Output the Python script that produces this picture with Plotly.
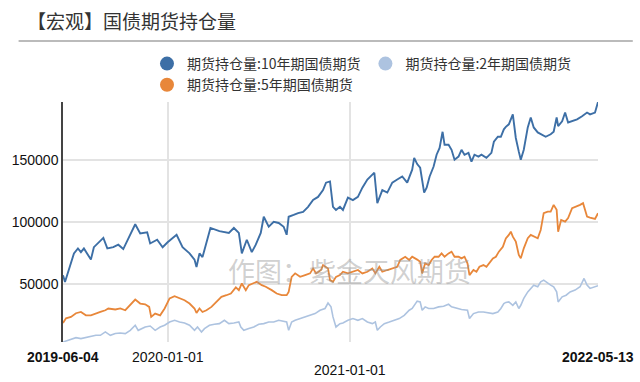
import plotly.graph_objects as go

title_text = "【宏观】国债期货持仓量"
watermark_text = "作图：紫金天风期货"

name_10y = "期货持仓量:10年期国债期货"
name_5y = "期货持仓量:5年期国债期货"
name_2y = "期货持仓量:2年期国债期货"

dates_10y = ["2019-06-04","2019-06-08","2019-06-26","2019-07-04","2019-07-10","2019-07-16","2019-07-30","2019-08-05","2019-08-24","2019-09-01","2019-09-13","2019-09-23","2019-10-03","2019-10-17","2019-10-27","2019-11-06","2019-11-20","2019-11-26","2019-12-10","2019-12-21","2019-12-31","2020-01-18","2020-01-30","2020-02-13","2020-02-23","2020-02-27","2020-03-04","2020-03-10","2020-03-20","2020-03-26","2020-04-13","2020-05-02","2020-05-12","2020-05-22","2020-05-28","2020-06-07","2020-06-17","2020-06-25","2020-07-05","2020-07-11","2020-07-21","2020-07-31","2020-08-10","2020-08-20","2020-08-26","2020-08-30","2020-09-09","2020-09-18","2020-09-28","2020-10-08","2020-10-18","2020-10-28","2020-11-07","2020-11-13","2020-11-21","2020-11-23","2020-11-27","2020-12-03","2020-12-11","2020-12-17","2020-12-27","2021-01-06","2021-01-16","2021-01-25","2021-02-04","2021-02-14","2021-02-18","2021-02-24","2021-03-06","2021-03-16","2021-03-26","2021-04-05","2021-04-15","2021-04-25","2021-05-05","2021-05-09","2021-05-15","2021-05-21","2021-05-25","2021-05-29","2021-06-03","2021-06-09","2021-06-17","2021-06-23","2021-06-29","2021-07-05","2021-07-09","2021-07-17","2021-07-23","2021-07-29","2021-08-06","2021-08-12","2021-08-18","2021-08-26","2021-09-01","2021-09-07","2021-09-15","2021-09-21","2021-10-01","2021-10-11","2021-10-16","2021-10-24","2021-10-30","2021-11-05","2021-11-09","2021-11-15","2021-11-23","2021-11-29","2021-12-05","2021-12-09","2021-12-15","2021-12-23","2021-12-29","2022-01-04","2022-01-12","2022-01-18","2022-01-28","2022-02-07","2022-02-13","2022-02-19","2022-02-22","2022-03-02","2022-03-08","2022-03-14","2022-03-22","2022-04-01","2022-04-11","2022-04-21","2022-04-27","2022-05-07","2022-05-13"]
vals_10y = [57400,52000,75000,79000,76000,79000,70000,80000,87500,79000,80000,82000,78500,91000,98500,91000,92000,83000,86000,80000,84000,90000,80000,75000,70000,64000,75000,72000,86000,95500,93000,91500,95500,91500,75000,86000,76000,82000,91500,104500,96500,100500,99500,96500,90000,104500,106000,107500,108500,112500,118000,120500,126000,132000,133000,126000,112500,110000,112500,110000,120000,118000,120500,128000,134500,138500,140000,115500,126000,124000,132000,134500,137000,132000,142500,152000,147000,144000,132000,124000,128000,137000,145000,154500,160000,173000,162500,162500,158500,150500,153000,158500,154500,156000,149000,154500,153000,154500,152000,156000,165000,169000,169000,175000,177000,179000,187000,168000,157000,150500,158500,176500,184500,176500,172500,171000,169000,171000,173000,184500,177500,181500,188500,180500,181500,183000,185500,188500,187000,188500,197000]

dates_5y = ["2019-06-04","2019-06-10","2019-06-20","2019-06-30","2019-07-10","2019-07-20","2019-07-30","2019-08-09","2019-08-18","2019-08-28","2019-09-03","2019-09-17","2019-09-27","2019-10-07","2019-10-17","2019-10-27","2019-11-06","2019-11-16","2019-11-24","2019-11-28","2019-12-06","2019-12-16","2019-12-25","2020-01-04","2020-01-14","2020-01-24","2020-02-03","2020-02-13","2020-02-23","2020-02-27","2020-03-04","2020-03-10","2020-03-18","2020-03-28","2020-04-07","2020-04-17","2020-04-27","2020-05-06","2020-05-16","2020-05-22","2020-05-28","2020-06-05","2020-06-11","2020-06-21","2020-06-27","2020-07-07","2020-07-15","2020-07-27","2020-08-06","2020-08-16","2020-08-26","2020-08-30","2020-09-05","2020-09-12","2020-09-22","2020-10-02","2020-10-12","2020-10-18","2020-10-24","2020-11-03","2020-11-07","2020-11-17","2020-11-21","2020-11-27","2020-12-03","2020-12-11","2020-12-17","2020-12-27","2021-01-06","2021-01-16","2021-01-25","2021-02-04","2021-02-14","2021-02-20","2021-02-28","2021-03-06","2021-03-16","2021-03-26","2021-04-05","2021-04-11","2021-04-21","2021-04-29","2021-05-05","2021-05-15","2021-05-21","2021-05-25","2021-05-31","2021-06-07","2021-06-13","2021-06-19","2021-06-27","2021-07-03","2021-07-09","2021-07-17","2021-07-23","2021-07-29","2021-08-06","2021-08-12","2021-08-18","2021-08-24","2021-08-28","2021-09-05","2021-09-11","2021-09-17","2021-09-25","2021-10-01","2021-10-07","2021-10-14","2021-10-20","2021-10-26","2021-11-03","2021-11-09","2021-11-15","2021-11-19","2021-11-23","2021-11-29","2021-12-05","2021-12-09","2021-12-15","2021-12-23","2021-12-29","2022-01-04","2022-01-12","2022-01-18","2022-01-24","2022-02-01","2022-02-07","2022-02-13","2022-02-19","2022-02-22","2022-02-28","2022-03-08","2022-03-14","2022-03-22","2022-04-01","2022-04-07","2022-04-13","2022-04-21","2022-04-27","2022-05-07","2022-05-13"]
vals_5y = [19000,22700,23800,26800,27800,25100,25100,26800,27800,29200,30600,29800,30600,29200,33200,37800,34600,34000,31900,23800,26500,25100,30600,38700,40500,38700,37300,34600,30600,27000,30600,27800,29200,31900,35900,40000,41300,42700,47600,45400,50800,45400,49400,51300,52100,49400,48100,45400,42700,41300,41300,44000,56100,58900,56100,57500,58900,62900,58900,61600,65600,62900,53500,52100,56100,57500,60200,58900,60200,61600,58900,60200,62900,58900,64200,60200,61600,62900,64200,69700,72300,69700,72300,70000,68300,58900,67000,65600,69700,72300,72300,75000,72300,75000,76400,72300,72300,71000,72300,67000,57500,61600,60200,64200,65600,64200,67000,71000,72300,76400,80400,87000,89900,92500,88500,84500,73700,71000,79100,87200,89900,88500,87200,93900,107400,108700,108700,114100,110100,92500,102000,100600,103400,111500,112800,114100,115500,104700,103900,102800,107400]

dates_2y = ["2019-06-04","2019-06-14","2019-06-30","2019-07-10","2019-07-20","2019-07-30","2019-08-09","2019-08-18","2019-08-28","2019-09-07","2019-09-17","2019-09-27","2019-10-07","2019-10-17","2019-10-27","2019-11-02","2019-11-10","2019-11-16","2019-11-26","2019-12-06","2019-12-16","2019-12-25","2020-01-04","2020-01-14","2020-01-24","2020-02-03","2020-02-13","2020-02-23","2020-02-29","2020-03-08","2020-03-14","2020-03-24","2020-04-03","2020-04-13","2020-04-23","2020-05-02","2020-05-12","2020-05-22","2020-05-26","2020-06-01","2020-06-11","2020-06-21","2020-07-01","2020-07-11","2020-07-21","2020-07-31","2020-08-10","2020-08-20","2020-08-26","2020-08-30","2020-09-05","2020-09-12","2020-09-22","2020-10-02","2020-10-12","2020-10-22","2020-11-01","2020-11-11","2020-11-17","2020-11-23","2020-11-27","2020-12-03","2020-12-11","2020-12-17","2020-12-27","2021-01-06","2021-01-16","2021-01-25","2021-02-04","2021-02-14","2021-02-20","2021-02-24","2021-03-02","2021-03-10","2021-03-20","2021-03-30","2021-04-09","2021-04-19","2021-04-29","2021-05-05","2021-05-15","2021-05-21","2021-05-25","2021-05-31","2021-06-07","2021-06-17","2021-06-27","2021-07-07","2021-07-17","2021-07-23","2021-08-02","2021-08-12","2021-08-24","2021-08-28","2021-09-05","2021-09-15","2021-09-25","2021-10-05","2021-10-14","2021-10-24","2021-10-30","2021-11-05","2021-11-09","2021-11-15","2021-11-23","2021-11-29","2021-12-05","2021-12-09","2021-12-15","2021-12-23","2021-12-29","2022-01-04","2022-01-12","2022-01-18","2022-01-24","2022-02-01","2022-02-07","2022-02-13","2022-02-19","2022-02-22","2022-03-02","2022-03-10","2022-03-18","2022-03-28","2022-04-07","2022-04-15","2022-04-21","2022-04-27","2022-05-07","2022-05-13"]
vals_2y = [3600,4900,7100,6300,7100,8200,9000,9000,11700,9000,10400,10900,10400,13000,17100,13000,14400,15700,16500,13000,15700,17100,19700,21100,19700,18900,17100,13000,15700,11700,14400,17100,17900,18400,21100,18400,18900,19700,15700,13000,14400,15700,17900,18400,19700,19700,21100,20600,19700,13000,19700,21100,22500,23800,25100,26500,29200,30600,35000,31900,23800,15700,18400,18900,21100,22500,21100,22500,19700,18400,19700,13000,15700,18400,19700,21100,22500,25100,29200,30600,36500,35900,29200,31900,30600,30600,31900,32400,34000,31900,30600,29800,29200,22500,26500,27800,27800,27000,26500,27800,30600,34600,35500,35900,33200,35900,30600,33200,38700,44000,46800,49400,48100,52100,53500,50800,49400,48100,44000,35900,40000,41300,44000,45400,48100,54800,49400,46800,48100,48900]

x_tick_dates = ["2019-06-04", "2020-01-01", "2021-01-01", "2022-05-13"]
x_tick_bold = [True, False, False, True]
x_tick_row = [0, 0, 1, 0]
y_ticks = [50000, 100000, 150000]

color_10y = "#3d6fa6"
color_5y = "#e8873a"
color_2y = "#adc3e0"

latin = "Liberation Sans, Arial, Noto Sans CJK SC, sans-serif"
cjk = "Noto Sans CJK SC, Liberation Sans, sans-serif"

fig = go.Figure()
for name, xs, ys, col, w in [(name_2y, dates_2y, vals_2y, color_2y, 1.6),
                             (name_5y, dates_5y, vals_5y, color_5y, 1.8),
                             (name_10y, dates_10y, vals_10y, color_10y, 1.9)]:
    fig.add_trace(go.Scatter(x=xs, y=ys, mode="lines", name=name, showlegend=False,
                             line=dict(color=col, width=w), hoverinfo="skip"))

# legend entries (round markers as in the reference)
for name, col in [(name_10y, color_10y), (name_2y, color_2y), (name_5y, color_5y)]:
    fig.add_trace(go.Scatter(x=[None], y=[None], mode="markers", name=name,
                             marker=dict(color=col, size=14), showlegend=True))

all_vals = vals_10y + vals_5y + vals_2y
y_lo, y_hi = min(all_vals), max(all_vals)

annotations = []
for d, b, r in zip(x_tick_dates, x_tick_bold, x_tick_row):
    annotations.append(dict(x=d, xref="x", y=-0.0625 - 0.055 * r, yref="paper",
                            text=("<b>%s</b>" % d) if b else d, showarrow=False,
                            xanchor="center", yanchor="middle",
                            font=dict(family=latin, size=14, color="#111")))
annotations.append(dict(x=0.535, xref="paper", y=0.3, yref="paper", text=watermark_text,
                        showarrow=False, xanchor="center", yanchor="middle",
                        font=dict(family=cjk, size=27, color="rgba(150,150,150,0.45)")))

fig.update_layout(
    width=640, height=382,
    margin=dict(l=57, r=42, t=102, b=40),
    paper_bgcolor="white", plot_bgcolor="white",
    title=dict(text=title_text, x=27 / 640, xanchor="left", y=1 - 22 / 382, yanchor="middle",
               font=dict(family=cjk, size=19, color="#333")),
    legend=dict(orientation="h", x=0.157, xanchor="left", y=1.225, yanchor="top",
                font=dict(family=cjk, size=14, color="#333"), traceorder="normal",
                bgcolor="rgba(0,0,0,0)", itemsizing="trace"),
    xaxis=dict(type="date", range=[dates_10y[0], dates_10y[-1]], tickvals=x_tick_dates[1:3],
               showticklabels=False, showgrid=True, gridcolor="#e3e3e3", gridwidth=1.5,
               showline=False, zeroline=False, ticks=""),
    yaxis=dict(range=[y_lo, y_hi], tickvals=y_ticks, tickformat="d", showgrid=True,
               gridcolor="#e3e3e3", gridwidth=1.5, showline=True, linecolor="#444",
               linewidth=1.5, zeroline=False, ticks="",
               tickfont=dict(family=latin, size=14, color="#111")),
    annotations=annotations,
    shapes=[dict(type="line", xref="paper", yref="paper", x0=-0.083, x1=1.065,
                 y0=1.254, y1=1.254, line=dict(color="#bbbbbb", width=2))],
)

fig.write_html("out.html", config={"displayModeBar": False},
               post_script="document.body.style.margin='0';document.body.style.overflow='hidden';")
